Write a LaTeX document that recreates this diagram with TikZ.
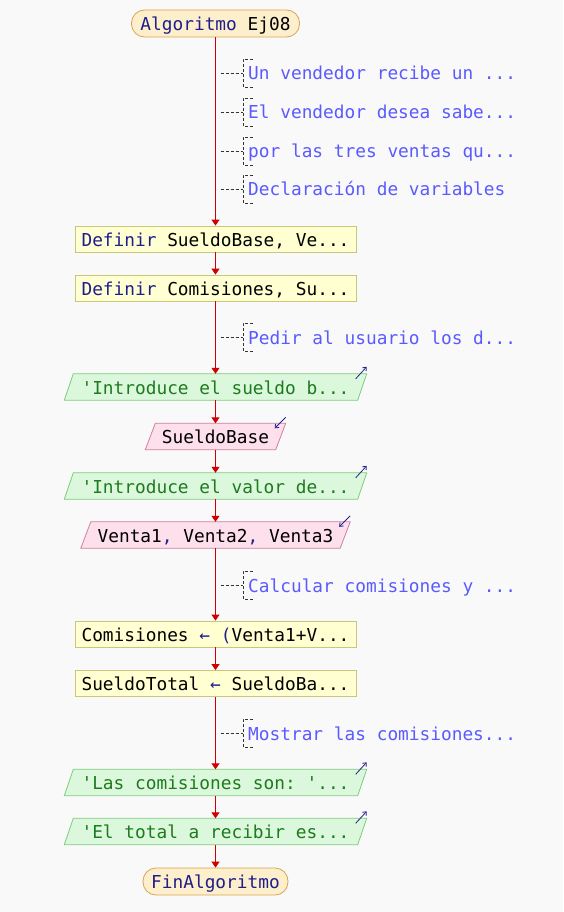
\documentclass[tikz,border=0pt]{standalone}
\usepackage{fontspec}
\setmonofont{DejaVu Sans Mono}
\usetikzlibrary{arrows.meta,backgrounds,calc}
\definecolor{bgc}{HTML}{F9F9F9}
\definecolor{kw}{HTML}{1E1E8C}
\definecolor{cmtc}{HTML}{5A5AFF}
\definecolor{strc}{HTML}{1E7A1E}
\definecolor{procF}{HTML}{FFFFD2}
\definecolor{procB}{HTML}{C8C87A}
\definecolor{termF}{HTML}{FDEFCB}
\definecolor{termB}{HTML}{D6A552}
\definecolor{outF}{HTML}{DCF8DC}
\definecolor{outB}{HTML}{7CCC7C}
\definecolor{inF}{HTML}{FDE0EC}
\definecolor{inB}{HTML}{CF7FA0}
\definecolor{flowc}{HTML}{D00000}
\definecolor{iconc}{HTML}{22228C}
\begin{document}
\begin{tikzpicture}[x=1pt,y=-1pt,
  font=\ttfamily\fontsize{17.8}{20}\selectfont,
  txt/.style={inner sep=0pt, text height=15pt, text depth=1pt},
  proc/.style={txt, draw=procB, fill=procF, line width=0.8pt, minimum width=281pt, minimum height=26pt},
  term/.style={txt, draw=termB, fill=termF, line width=0.8pt, rounded corners=13pt, minimum height=27pt},
  iotxt/.style={txt, minimum height=26pt},
  outshape/.style={draw=outB, fill=outF, line width=0.8pt},
  inshape/.style={draw=inB, fill=inF, line width=0.8pt},
  flow/.style={draw=flowc, line width=1pt, -{Triangle[width=8pt,length=6pt]}},
  cmt/.style={txt, anchor=west, text=cmtc},
  dashb/.style={draw=black!80, line width=0.8pt, dash pattern=on 3pt off 2pt},
  icon/.style={draw=iconc, line width=0.8pt, -{Straight Barb[length=3pt,width=5pt]}}
]
\begin{pgfonlayer}{background}
\fill[bgc] (0,0) rectangle (563,912);
\end{pgfonlayer}
\useasboundingbox (0,0) rectangle (563,912);

% nodes
\node[term, minimum width=168pt] (start) at (215.5,23.5) {\textcolor{kw}{Algoritmo} Ej08};
\node[proc] (b1) at (215.5,239) {\textcolor{kw}{Definir} SueldoBase, Ve...};
\node[proc] (b2) at (215.5,288) {\textcolor{kw}{Definir} Comisiones, Su...};
\node[iotxt, minimum width=302pt, text=strc] (o1) at (215.5,387) {'Introduce el sueldo b...};
\node[iotxt, minimum width=140pt] (i1) at (215.5,436.5) {SueldoBase};
\node[iotxt, minimum width=302pt, text=strc] (o2) at (215.5,486) {'Introduce el valor de...};
\node[iotxt, minimum width=269pt] (i2) at (215.5,535) {Venta1\textcolor{kw}{,} Venta2\textcolor{kw}{,} Venta3};
\node[proc] (b3) at (215.5,634) {Comisiones \textcolor{kw}{← (}Venta1+V...};
\node[proc] (b4) at (215.5,683.5) {SueldoTotal \textcolor{kw}{←} SueldoBa...};
\node[iotxt, minimum width=302pt, text=strc] (o3) at (215.5,782.5) {'Las comisiones son: '...};
\node[iotxt, minimum width=302pt, text=strc] (o4) at (215.5,831.5) {'El total a recibir es...};
\node[term, minimum width=145pt] (end) at (215.5,881.5) {\textcolor{kw}{FinAlgoritmo}};

% io shapes
\begin{pgfonlayer}{background}
\foreach \n in {o1,o2,o3,o4}{
  \path[outshape] (\n.south west) -- ($(\n.north west)+(9,0)$) -- (\n.north east) -- ($(\n.south east)+(-9,0)$) -- cycle;
}
\foreach \n in {i1,i2}{
  \path[inshape] (\n.south west) -- ($(\n.north west)+(10,0)$) -- (\n.north east) -- ($(\n.south east)+(-10,0)$) -- cycle;
}
\end{pgfonlayer}
\foreach \n in {o1,o2,o3,o4}{
  \draw[icon] ($(\n.north east)+(-11,5)$) -- ($(\n.north east)+(0,-7)$);
}
\foreach \n in {i1,i2}{
  \draw[icon] ($(\n.north east)+(0,-6)$) -- ($(\n.north east)+(-11,5)$);
}

% flow
\draw[flow] (start) -- (b1);
\draw[flow] (b1) -- (b2);
\draw[flow] (b2) -- (o1);
\draw[flow] (o1) -- (i1);
\draw[flow] (i1) -- (o2);
\draw[flow] (o2) -- (i2);
\draw[flow] (i2) -- (b3);
\draw[flow] (b3) -- (b4);
\draw[flow] (b4) -- (o3);
\draw[flow] (o3) -- (o4);
\draw[flow] (o4) -- (end);

% comments
\foreach \k/\yy/\t in {1/73/{Un vendedor recibe un ...},2/112/{El vendedor desea sabe...},3/151/{por las tres ventas qu...},4/189/{Declaración de variables},5/337/{Pedir al usuario los d...},6/585/{Calcular comisiones y ...},7/733/{Mostrar las comisiones...}}{
  \coordinate (c\k) at (215.5,\yy);
  \node[cmt] (t\k) at (248,\yy) {\t};
  \draw[dashb] ($(c\k)+(5,0)$) -- ($(t\k.west)+(-5,0)$);
  \draw[dashb] ($(t\k.west)+(5,-14)$) -- ($(t\k.west)+(-5,-14)$) -- ($(t\k.west)+(-5,14)$) -- ($(t\k.west)+(5,14)$);
}
\end{tikzpicture}
\end{document}
